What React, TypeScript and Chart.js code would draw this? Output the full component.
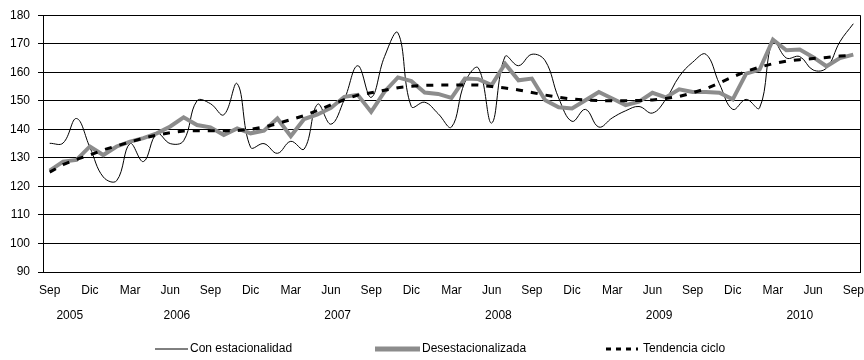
import React, { useEffect, useRef } from "react";
import { Chart, registerables } from "chart.js";

Chart.register(...registerables);

// ---------- data ----------
const categories = [
  "Sep 2005", "Oct 2005", "Nov 2005", "Dic 2005",
  "Ene 2006", "Feb 2006", "Mar 2006", "Abr 2006", "May 2006", "Jun 2006", "Jul 2006", "Ago 2006", "Sep 2006", "Oct 2006", "Nov 2006", "Dic 2006",
  "Ene 2007", "Feb 2007", "Mar 2007", "Abr 2007", "May 2007", "Jun 2007", "Jul 2007", "Ago 2007", "Sep 2007", "Oct 2007", "Nov 2007", "Dic 2007",
  "Ene 2008", "Feb 2008", "Mar 2008", "Abr 2008", "May 2008", "Jun 2008", "Jul 2008", "Ago 2008", "Sep 2008", "Oct 2008", "Nov 2008", "Dic 2008",
  "Ene 2009", "Feb 2009", "Mar 2009", "Abr 2009", "May 2009", "Jun 2009", "Jul 2009", "Ago 2009", "Sep 2009", "Oct 2009", "Nov 2009", "Dic 2009",
  "Ene 2010", "Feb 2010", "Mar 2010", "Abr 2010", "May 2010", "Jun 2010", "Jul 2010", "Ago 2010", "Sep 2010",
];

const tickMonths = ["Sep", "Dic", "Mar", "Jun"];
const years = ["2005", "2006", "2007", "2008", "2009", "2010"];

const conEstacionalidad = [
  135.1, 135.2, 143.8, 133.7, 123.3, 122, 135, 128.7, 138.5, 135,
  136, 150, 149, 145.1, 156, 133.7, 135, 131.6, 135.8, 133.1,
  148.8, 141.8, 150.5, 162.3, 151.2, 165.5, 173.8, 148, 149.5, 145.5,
  140.8, 156.5, 161.5, 142.2, 165.5, 162.3, 166.3, 164, 151, 142.8,
  147, 140.8, 144, 146.5, 148, 145.7, 150.5, 158.5, 163.5, 166.3,
  156, 147, 150.5, 147.5, 171, 165, 165.5, 160.8, 161.5, 170.7,
  177,
];

const desestacionalizada = [
  125.5, 128.7, 129.3, 134, 131, 134, 135.7, 136.9, 138.6, 141,
  144.2, 141.5, 140.7, 138, 140.3, 138.6, 139.5, 143.8, 137.6, 143.6,
  145.2, 147.5, 151.4, 152.1, 146.1, 153.2, 158.2, 156.9, 152.9, 152.4,
  151, 157.8, 157.6, 155.5, 163, 157.2, 157.8, 150.2, 147.7, 147.3,
  150.2, 153.1, 150.8, 148.5, 149.7, 152.8, 151.2, 154, 153.1, 153.1,
  152.8, 150.5, 159.5, 160.9, 171.4, 167.7, 168, 165.3, 162.1, 165,
  166.2,
];

const tendenciaCiclo = [
  125, 127.6, 129.5, 131, 132.8, 134.2, 135.6, 136.9, 138, 138.8,
  139.4, 139.5, 139.5, 139.5, 139.6, 140, 140.8, 142, 143.4, 144.8,
  146.6, 148.6, 150.4, 152, 152.8, 153.7, 154.6, 155.1, 155.4, 155.5,
  155.5, 155.5, 155.5, 155, 154.5, 153.8, 152.9, 152, 151.2, 150.6,
  150.3, 150.1, 150, 150, 150.1, 150.3, 150.8, 151.5, 152.8, 154.2,
  156.2, 158.4, 160.3, 161.8, 163, 163.9, 164.4, 164.8, 165.2, 165.7,
  166,
];

const seriesLabels = ["Con estacionalidad", "Desestacionalizada", "Tendencia ciclo"];
const yMin = 90;
const yMax = 180;
const yStep = 10;

// ---------- styling ----------
const FONT_FAMILY = "'Liberation Sans', Arial, sans-serif";
const FONT_SIZE = 12;
const YEAR_Y = 316;
const LEGEND_Y = 349;
const LEGEND_POS = [
  { x1: 155, x2: 188, tx: 190 },
  { x1: 375, x2: 420, tx: 422 },
  { x1: 606, x2: 638, tx: 643 },
];

const extrasPlugin = {
  id: "extras",
  beforeDatasetsDraw(chart: any) {
    const { ctx, chartArea } = chart;
    ctx.save();
    ctx.strokeStyle = "#000";
    ctx.lineWidth = 1;
    const x = Math.round(chartArea.right - 0.5) + 0.5;
    ctx.beginPath();
    ctx.moveTo(x, chartArea.top);
    ctx.lineTo(x, chartArea.bottom + 0.5);
    ctx.stroke();
    ctx.restore();
  },
  afterDraw(chart: any) {
    const { ctx } = chart;
    const xScale = chart.scales.x;
    ctx.save();
    ctx.font = `${FONT_SIZE}px ${FONT_FAMILY}`;
    ctx.fillStyle = "#000";
    ctx.textAlign = "center";
    ctx.textBaseline = "middle";
    years.forEach((yr) => {
      const idx: number[] = [];
      categories.forEach((c, i) => {
        if (c.endsWith(yr)) idx.push(i);
      });
      if (!idx.length) return;
      const x =
        (xScale.getPixelForValue(idx[0]) + xScale.getPixelForValue(idx[idx.length - 1])) / 2;
      ctx.fillText(yr, x, YEAR_Y);
    });

    // legend
    ctx.textAlign = "left";
    chart.data.datasets.forEach((ds: any, i: number) => {
      const p = LEGEND_POS[i];
      ctx.save();
      ctx.strokeStyle = ds.borderColor;
      ctx.lineWidth = ds.legendWidth;
      ctx.setLineDash(ds.legendDash || []);
      ctx.beginPath();
      ctx.moveTo(p.x1, LEGEND_Y);
      ctx.lineTo(p.x2, LEGEND_Y);
      ctx.stroke();
      ctx.restore();
      ctx.fillStyle = "#000";
      ctx.fillText(ds.label, p.tx, LEGEND_Y);
    });
    ctx.restore();
  },
};

export default function App() {
  const canvasRef = useRef<HTMLCanvasElement | null>(null);

  useEffect(() => {
    if (!canvasRef.current) return;
    Chart.defaults.font.family = FONT_FAMILY;
    Chart.defaults.font.size = FONT_SIZE;
    Chart.defaults.color = "#000";

    const chart = new Chart(canvasRef.current, {
      type: "line",
      data: {
        labels: categories,
        datasets: [
          {
            label: seriesLabels[0],
            data: conEstacionalidad,
            borderColor: "#000000",
            borderWidth: 1,
            tension: 0.4,
            pointRadius: 0,
            fill: false,
            order: 3,
            legendWidth: 1,
          } as any,
          {
            label: seriesLabels[1],
            data: desestacionalizada,
            borderColor: "#8c8c8c",
            borderWidth: 4,
            tension: 0,
            pointRadius: 0,
            fill: false,
            order: 2,
            legendWidth: 5,
          } as any,
          {
            label: seriesLabels[2],
            data: tendenciaCiclo,
            borderColor: "#000000",
            borderWidth: 3,
            borderDash: [7, 8],
            tension: 0,
            pointRadius: 0,
            fill: false,
            order: 1,
            legendWidth: 3,
            legendDash: [5, 5],
          } as any,
        ],
      },
      options: {
        animation: false,
        responsive: false,
        maintainAspectRatio: false,
        layout: { padding: { top: 14, right: 4, bottom: 0, left: 0 } },
        plugins: {
          legend: { display: false },
          tooltip: { enabled: false },
        },
        scales: {
          x: {
            type: "category",
            offset: true,
            grid: { display: false, drawTicks: false },
            border: { display: true, color: "#000", width: 1 },
            ticks: {
              autoSkip: false,
              maxRotation: 0,
              minRotation: 0,
              padding: 11,
              color: "#000",
              callback: (value: any, index: number) => {
                const m = categories[index].split(" ")[0];
                return tickMonths.includes(m) ? m : "";
              },
            },
            afterFit: (scale: any) => {
              scale.height = 88;
              scale.paddingLeft = 0;
              scale.paddingRight = 0;
            },
          },
          y: {
            min: yMin,
            max: yMax,
            grid: {
              color: "#000",
              lineWidth: 1,
              drawTicks: true,
              tickLength: 5,
              tickColor: "#000",
            },
            border: { display: true, color: "#000", width: 1 },
            ticks: { stepSize: yStep, padding: 8, color: "#000" },
            afterFit: (scale: any) => {
              scale.width = 43;
            },
          },
        },
      },
      plugins: [extrasPlugin],
    });
    return () => chart.destroy();
  }, []);

  return (
    <div style={{ position: "fixed", left: 0, top: 0, width: 864, height: 360, background: "#fff" }}>
      <canvas ref={canvasRef} width={864} height={360} style={{ display: "block" }} />
    </div>
  );
}
